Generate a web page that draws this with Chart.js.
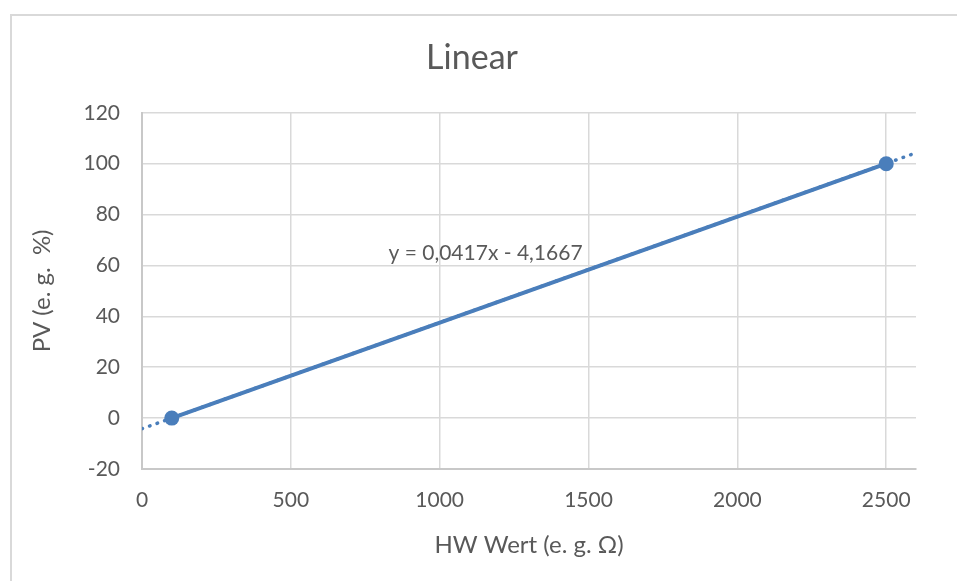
<!DOCTYPE html>
<html>
<head>
<meta charset="utf-8">
<script src="https://cdn.jsdelivr.net/npm/chart.js@4"></script>
<style>
  html, body { margin: 0; padding: 0; background: #fff; }
  #wrap { position: relative; width: 957px; height: 581px; overflow: hidden; }
  #frame { position: absolute; left: 10px; top: 14px; width: 1000px; height: 700px;
           border-left: 2px solid #d9d9d9; border-top: 2px solid #d9d9d9; }
  #linear-chart { position: absolute; left: 0; top: 0; }
</style>
</head>
<body>
<div id="wrap">
  <div id="frame"></div>
  <canvas id="linear-chart" width="957" height="581"></canvas>
</div>
<script>
// punkte (HW Wert -> PV)
const hwWert = [100, 2500];
const pvWert = [0, 100];

// trendlinie y = 0,0417x - 4,1667, von 0 bis 2600
const trendX = [0, 2600];
const trendY = [-4.1667, 104.25];
const trendText = 'y = 0,0417x - 4,1667';

const xTicks = [0, 500, 1000, 1500, 2000, 2500];
const yTicks = [-20, 0, 20, 40, 60, 80, 100, 120];

const blue = '#4a7ebb';
const grey = '#595959';
const fontFam = "Lato, 'Open Sans', sans-serif";

document.addEventListener('DOMContentLoaded', function() {
    const canvas = document.getElementById('linear-chart');
    if (!canvas) {
        console.error('canvas fehlt');
        return;
    }

    // Beschriftung der Trendlinie, an Datenkoordinaten verankert
    const trendLabel = {
        id: 'trendLabel',
        afterDatasetsDraw(chart) {
            const c = chart.ctx;
            const px = chart.scales.x.getPixelForValue(1480);
            const py = chart.scales.y.getPixelForValue(64.7);
            c.save();
            c.font = '21px ' + fontFam;
            c.fillStyle = grey;
            c.textAlign = 'right';
            c.textBaseline = 'middle';
            c.fillText(trendText, px, py);
            c.restore();
        }
    };

    new Chart(canvas.getContext('2d'), {
        type: 'scatter',
        data: {
            datasets: [{
                label: 'PV',
                data: hwWert.map((x, i) => ({ x: x, y: pvWert[i] })),
                showLine: true,
                borderColor: blue,
                backgroundColor: blue,
                borderWidth: 4,
                pointRadius: 7.5,
                pointHoverRadius: 7.5,
                pointBorderWidth: 0
            }, {
                label: 'Linear',
                data: trendX.map((x, i) => ({ x: x, y: trendY[i] })),
                showLine: true,
                borderColor: blue,
                borderWidth: 3.5,
                borderDash: [0.5, 7.5],
                borderCapStyle: 'round',
                pointRadius: 0
            }]
        },
        options: {
            responsive: false,
            animation: false,
            layout: { padding: { left: 28, right: 41, top: 0, bottom: 0 } },
            plugins: {
                legend: { display: false },
                tooltip: { enabled: false },
                title: {
                    display: true,
                    text: 'Linear',
                    color: grey,
                    font: { family: fontFam, size: 34, weight: 'normal' },
                    padding: { top: 38, bottom: 34 }
                }
            },
            scales: {
                x: {
                    type: 'linear',
                    min: 0,
                    max: 2600,
                    afterBuildTicks: s => { s.ticks = xTicks.map(v => ({ value: v })); },
                    grid: { color: '#d9d9d9', lineWidth: 1.5, drawTicks: false },
                    border: { color: '#c8c8c8', width: 2 },
                    ticks: {
                        color: grey, padding: 19,
                        font: { family: fontFam, size: 21 },
                        callback: v => String(v)
                    },
                    title: {
                        display: true,
                        text: 'HW Wert (e. g. Ω)',
                        color: grey,
                        font: { family: fontFam, size: 24 },
                        padding: { top: 17, bottom: 21 }
                    },
                    afterFit: s => { s.height = 112; }
                },
                y: {
                    type: 'linear',
                    min: -20,
                    max: 120,
                    afterBuildTicks: s => { s.ticks = yTicks.map(v => ({ value: v })); },
                    grid: { color: '#d9d9d9', lineWidth: 1.5, drawTicks: false },
                    border: { color: '#c8c8c8', width: 2 },
                    ticks: {
                        color: grey, padding: 22,
                        font: { family: fontFam, size: 21 },
                        callback: v => String(v)
                    },
                    title: {
                        display: true,
                        text: 'PV (e. g.  %)',
                        color: grey,
                        font: { family: fontFam, size: 24 },
                        padding: { top: 0, bottom: 20 }
                    },
                    afterFit: s => { s.width = 114; }
                }
            }
        },
        plugins: [trendLabel]
    });
});
</script>
</body>
</html>
